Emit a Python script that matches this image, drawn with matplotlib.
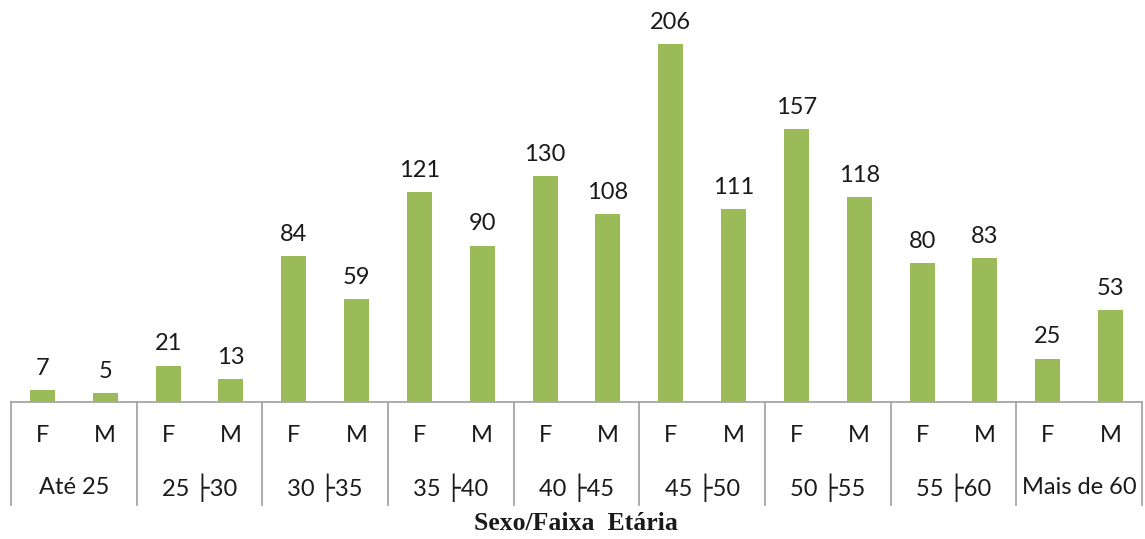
import matplotlib
matplotlib.use("Agg")
import matplotlib.pyplot as plt
import matplotlib.transforms as mtransforms

groups = ["Até 25", "25 ├30", "30 ├35", "35 ├40", "40 ├45",
          "45 ├50", "50 ├55", "55 ├60", "Mais de 60"]
sexes = ["F", "M"]
values = [7, 5, 21, 13, 84, 59, 121, 90, 130, 108,
          206, 111, 157, 118, 80, 83, 25, 53]

bar_color = "#9BBB59"
line_color = "#A6A6A6"
font = ["Lato", "DejaVu Sans"]

W, H = 1145, 539
fig = plt.figure(figsize=(W / 100, H / 100), dpi=100)
ax = fig.add_axes([11 / W, 137 / H, (1142 - 11) / W, 402 / H])

n = len(values)
x = list(range(n))
ax.bar(x, values, width=0.4, color=bar_color, zorder=2)
for xi, v in zip(x, values):
    ax.annotate(str(v), (xi, v), xytext=(0, 8), textcoords="offset points",
                ha="center", va="bottom", fontsize=17, family=font,
                color="#1a1a1a")

ax.set_xlim(-0.5, n - 0.5)
ax.set_ylim(0, 231.3)
ax.set_xticks([])
ax.set_yticks([])
for s in ax.spines.values():
    s.set_visible(False)

trans = mtransforms.blended_transform_factory(ax.transData, ax.transAxes)
px = 1 / 402
# baseline
ax.plot([-0.5, n - 0.5], [0, 0], transform=trans, color=line_color,
        lw=1.3, clip_on=False, zorder=3)
# group separators
for g in range(len(groups) + 1):
    xb = -0.5 + 2 * g
    ax.plot([xb, xb], [0, -103 * px], transform=trans, color=line_color,
            lw=1.3, clip_on=False)

# sex labels
for xi in x:
    ax.text(xi, -33 * px, sexes[xi % 2], transform=trans, ha="center",
            va="center", fontsize=17, family=font, color="#1a1a1a")
# group labels
for g, name in enumerate(groups):
    ax.text(2 * g + 0.5, -86 * px, name, transform=trans, ha="center",
            va="center", fontsize=17, family=font, color="#1a1a1a")

fig.text(576 / W, 1 - 524 / H, "Sexo/Faixa  Etária", ha="center",
         va="center", fontsize=18.5, fontweight="bold",
         family="Liberation Serif", color="#1a1a1a")

fig.savefig("out.png", dpi=100, facecolor="white")
